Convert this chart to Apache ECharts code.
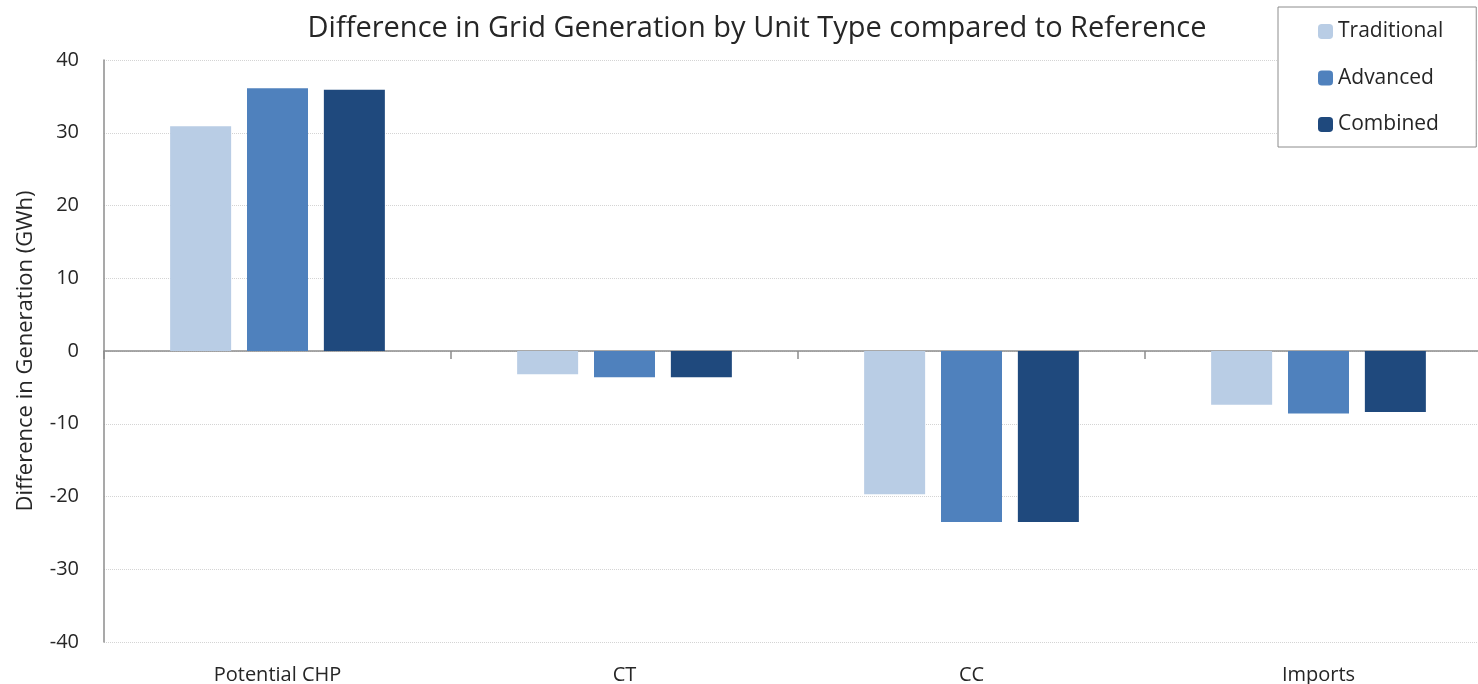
<!DOCTYPE html>
<html>
<head>
<meta charset="utf-8">
<script src="https://cdn.jsdelivr.net/npm/echarts@6/dist/echarts.min.js"></script>
<style>
html,body{margin:0;padding:0;background:#fff;}
#main{width:1478px;height:684px;}
</style>
</head>
<body>
<div id="main"></div>
<script>
var categories = ['Potential CHP', 'CT', 'CC', 'Imports'];
var traditional = [30.9, -3.2, -19.7, -7.4];
var advanced = [36.1, -3.6, -23.5, -8.6];
var combined = [35.9, -3.6, -23.5, -8.4];
var yTicks = { min: -40, max: 40, interval: 10 };

var font = 'Open Sans';
var myChart = echarts.init(document.getElementById('main'));

function bar(name, data, color) {
	return {
		name: name,
		type: 'bar',
		data: data,
		barWidth: 61,
		barGap: '26%',
		itemStyle: { color: color }
	};
}

var option = {
	animation: false,
	textStyle: { fontFamily: font },
	title: {
		text: 'Difference in Grid Generation by Unit Type compared to Reference',
		left: 752,
		textAlign: 'center',
		top: 9,
		textStyle: { fontFamily: font, fontSize: 29, fontWeight: 'normal', color: '#262626' }
	},
	legend: {
		orient: 'vertical',
		left: 1278,
		top: 7,
		padding: [14, 33, 12, 40],
		itemGap: 25.5,
		itemWidth: 15,
		itemHeight: 15,
		borderColor: '#8c8c8c',
		borderWidth: 1,
		backgroundColor: '#fff',
		textStyle: { fontFamily: font, fontSize: 21, color: '#262626' },
		data: ['Traditional', 'Advanced', 'Combined']
	},
	grid: { left: 104, width: 1388, top: 60, height: 582, outerBoundsMode: 'none', containLabel: false },
	xAxis: {
		type: 'category',
		data: categories,
		axisLine: { onZero: true, lineStyle: { color: '#8c8c8c', width: 1.5 } },
		axisTick: { show: true, length: 8, lineStyle: { color: '#8c8c8c', width: 1.5 } },
		axisLabel: {
			interval: 0,
			margin: 23,
			fontSize: 20,
			color: '#262626'
		}
	},
	yAxis: {
		type: 'value',
		min: yTicks.min,
		max: yTicks.max,
		interval: yTicks.interval,
		name: 'Difference in Generation (GWh)',
		nameLocation: 'middle',
		nameGap: 67,
		nameTextStyle: { fontFamily: font, fontSize: 22, color: '#262626' },
		axisLine: { show: true, lineStyle: { color: '#8c8c8c', width: 1.5 } },
		axisTick: { show: false },
		axisLabel: { fontSize: 20, color: '#262626', margin: 25 },
		splitLine: { lineStyle: { color: '#d4d4d4', type: 'dotted', width: 1 } }
	},
	series: [
		bar('Traditional', traditional, '#b9cde5'),
		bar('Advanced', advanced, '#4f81bd'),
		bar('Combined', combined, '#1f497d')
	]
};

myChart.setOption(option);
</script>
</body>
</html>
